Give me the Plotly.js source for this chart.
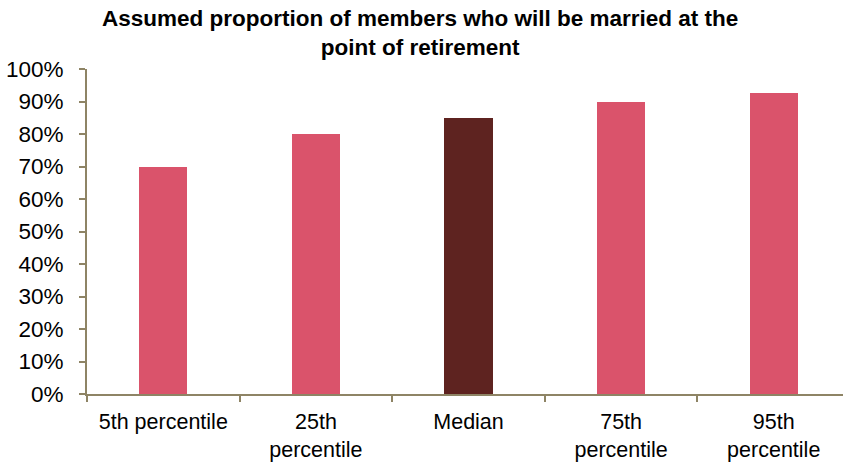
<!DOCTYPE html>
<html>
<head>
<meta charset="utf-8">
<script src="https://cdn.plot.ly/plotly-3.0.1.min.js"></script>
<style>html,body{margin:0;padding:0;background:#fff;}#chart{width:843px;height:464px;}</style>
</head>
<body>
<div id="chart"></div>
<script>
const categories = ["5th percentile", "25th<br>percentile", "Median", "75th<br>percentile", "95th<br>percentile"];
const values = [0.70, 0.80, 0.85, 0.90, 0.925];
const barColors = ["#DA536B", "#DA536B", "#5E2320", "#DA536B", "#DA536B"];
const yTickVals = [0, 0.1, 0.2, 0.3, 0.4, 0.5, 0.6, 0.7, 0.8, 0.9, 1.0];
const titleText = "Assumed proportion of members who will be married at the<br>point of retirement";

const axisColor = "#8E8465";
const font = "Liberation Sans, Arial, sans-serif";

Plotly.newPlot("chart", [{
  type: "bar",
  x: categories,
  y: values,
  width: 0.315,
  marker: {color: barColors, line: {width: 0}},
  hoverinfo: "skip"
}], {
  width: 843, height: 464,
  margin: {l: 87, r: 0, t: 69, b: 70, pad: 0},
  paper_bgcolor: "#fff", plot_bgcolor: "#fff",
  showlegend: false,
  annotations: [{
    text: "<b>" + titleText + "</b>",
    xref: "paper", yref: "paper", x: 0.4405, y: 1.02,
    xanchor: "center", yanchor: "bottom", showarrow: false,
    font: {family: font, size: 22.5, color: "#000"}
  }],
  xaxis: {
    type: "category",
    range: [-0.5, 4.454],
    tickson: "boundaries",
    ticks: "outside", ticklen: 6, tickcolor: axisColor, tickwidth: 2,
    ticklabelstandoff: 7,
    showline: true, linecolor: axisColor, linewidth: 2,
    showgrid: false, zeroline: false,
    tickfont: {family: font, size: 21.5, color: "#000"},
    fixedrange: true
  },
  yaxis: {
    range: [0, 1],
    tickvals: yTickVals,
    tickformat: ".0%",
    ticks: "outside", ticklen: 6, tickcolor: axisColor, tickwidth: 2,
    ticklabelstandoff: 11,
    showline: true, linecolor: axisColor, linewidth: 2,
    showgrid: false, zeroline: false,
    tickfont: {family: font, size: 22.5, color: "#000"},
    fixedrange: true
  },
  bargap: 0
}, {displayModeBar: false, staticPlot: true});
</script>
</body>
</html>
